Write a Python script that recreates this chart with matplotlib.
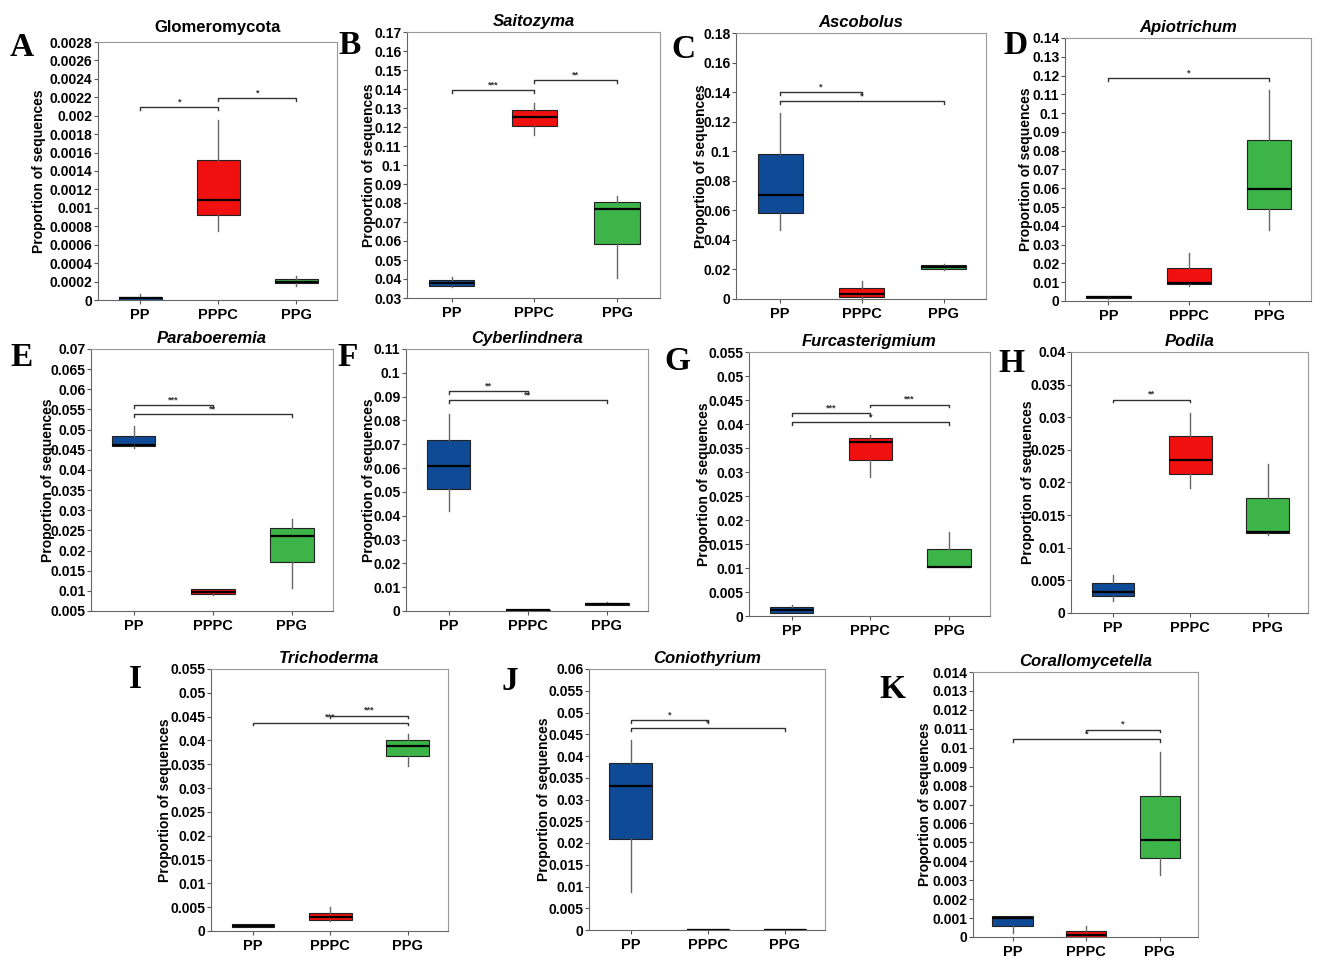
import numpy as np
import matplotlib.pyplot as plt

plt.rcParams["font.family"] = ["Liberation Sans", "DejaVu Sans"]
plt.rcParams["font.weight"] = "bold"

groups = ["PP", "PPPC", "PPG"]

# box stats per group: (whisker low, q1, median, q3, whisker high)
glomeromycota = [(0.0, 0.0, 0.00002, 0.00003, 0.00006),
                 (0.00075, 0.00092, 0.00108, 0.00152, 0.00195),
                 (0.00015, 0.00018, 0.0002, 0.00023, 0.00026)]
saitozyma = [(0.0356, 0.0364, 0.0378, 0.0394, 0.0412),
             (0.1157, 0.1206, 0.1255, 0.129, 0.1325),
             (0.0406, 0.0584, 0.0767, 0.0804, 0.0837)]
ascobolus = [(0.0467, 0.0585, 0.0705, 0.098, 0.126),
             (0.001, 0.0016, 0.0034, 0.0072, 0.0122),
             (0.0198, 0.0201, 0.0215, 0.0229, 0.024)]
apiotrichum = [(0.0013, 0.0015, 0.002, 0.0025, 0.0027),
               (0.008, 0.0089, 0.0098, 0.0178, 0.0254),
               (0.0378, 0.0489, 0.0597, 0.0856, 0.1121)]
paraboeremia = [(0.0455, 0.046, 0.0462, 0.0485, 0.0508),
                (0.009, 0.0092, 0.0096, 0.0104, 0.0105),
                (0.0108, 0.0172, 0.0235, 0.0257, 0.0278)]
cyberlindnera = [(0.0418, 0.0513, 0.061, 0.0719, 0.0827),
                 (0.0001, 0.0001, 0.0003, 0.0005, 0.0006),
                 (0.0025, 0.0027, 0.003, 0.0033, 0.0038)]
furcasterigmium = [(0.0006, 0.0007, 0.0012, 0.0019, 0.0022),
                   (0.0289, 0.0326, 0.0363, 0.037, 0.0377),
                   (0.0102, 0.0102, 0.0102, 0.0139, 0.0174)]
podila = [(0.0019, 0.0026, 0.0032, 0.0046, 0.0059),
          (0.0191, 0.0213, 0.0235, 0.0271, 0.0306),
          (0.012, 0.0122, 0.0124, 0.0177, 0.0229)]
trichoderma = [(0.0008, 0.0008, 0.0011, 0.0014, 0.0014),
               (0.0022, 0.0024, 0.003, 0.0038, 0.005),
               (0.0347, 0.0367, 0.0389, 0.0401, 0.0413)]
coniothyrium = [(0.0087, 0.0209, 0.0332, 0.0384, 0.0436),
                (0.0, 0.0, 0.0001, 0.0002, 0.0002),
                (0.0, 0.0, 0.0001, 0.0002, 0.0002)]
corallomycetella = [(0.0002, 0.0006, 0.001, 0.0011, 0.0011),
                    (0.0, 0.0, 0.0001, 0.0003, 0.00056),
                    (0.0033, 0.00418, 0.0051, 0.00745, 0.00977)]

# significance brackets: (group i, group j, height, stars)
glomeromycota_sig = [(0, 1, 0.00209, "*"), (1, 2, 0.00219, "*")]
saitozyma_sig = [(0, 1, 0.1395, "***"), (1, 2, 0.1445, "**")]
ascobolus_sig = [(0, 1, 0.1400, "*"), (0, 2, 0.1337, "*")]
apiotrichum_sig = [(0, 2, 0.1187, "*")]
paraboeremia_sig = [(0, 1, 0.0560, "***"), (0, 2, 0.0538, "**")]
cyberlindnera_sig = [(0, 1, 0.0922, "**"), (0, 2, 0.0884, "**")]
furcasterigmium_sig = [(0, 1, 0.0423, "***"), (1, 2, 0.0440, "***"), (0, 2, 0.0404, "*")]
podila_sig = [(0, 1, 0.0327, "**")]
trichoderma_sig = [(0, 2, 0.0437, "***"), (1, 2, 0.0452, "***")]
coniothyrium_sig = [(0, 1, 0.0483, "*"), (0, 2, 0.0464, "*")]
corallomycetella_sig = [(0, 2, 0.01044, "*"), (1, 2, 0.01095, "*")]

colors = ["#0f4a96", "#f01010", "#3cb448"]
W, H = 1325, 968

# letter, title, italic, stats, sig, (left, top, right, bottom) px, (ymin, ymax, step), ylabel x px, letter xy px, title pad
panels = [
    ("A", "Glomeromycota", False, glomeromycota, glomeromycota_sig, (98, 42, 337, 300), (0, 0.0028, 0.0002), 39, (22, 47), 7),
    ("B", "Saitozyma", True, saitozyma, saitozyma_sig, (407, 32, 660, 298), (0.03, 0.17, 0.01), 369, (350, 46), 4),
    ("C", "Ascobolus", True, ascobolus, ascobolus_sig, (736, 33, 986, 299), (0, 0.18, 0.02), 701, (683, 50), 4),
    ("D", "Apiotrichum", True, apiotrichum, apiotrichum_sig, (1065, 38, 1311, 301), (0, 0.14, 0.01), 1026, (1015, 46), 4),
    ("E", "Paraboeremia", True, paraboeremia, paraboeremia_sig, (91, 349, 333, 611), (0.005, 0.07, 0.005), 48, (22, 357), 4),
    ("F", "Cyberlindnera", True, cyberlindnera, cyberlindnera_sig, (406, 349, 648, 611), (0, 0.11, 0.01), 369, (348, 358), 4),
    ("G", "Furcasterigmium", True, furcasterigmium, furcasterigmium_sig, (749, 352, 990, 616), (0, 0.055, 0.005), 704, (677, 362), 4),
    ("H", "Podila", True, podila, podila_sig, (1071, 352, 1308, 613), (0, 0.04, 0.005), 1028, (1011, 363), 4),
    ("I", "Trichoderma", True, trichoderma, trichoderma_sig, (211, 669, 448, 931), (0, 0.055, 0.005), 165, (135, 680), 4),
    ("J", "Coniothyrium", True, coniothyrium, coniothyrium_sig, (589, 669, 825, 930), (0, 0.06, 0.005), 544, (510, 682), 4),
    ("K", "Corallomycetella", True, corallomycetella, corallomycetella_sig, (973, 672, 1198, 937), (0, 0.014, 0.001), 925, (892, 690), 4),
]

fig = plt.figure(figsize=(W / 100, H / 100), dpi=100)

for letter, title, italic, stats, sig, rect, yl, lab_x, let_xy, tpad in panels:
    l, t, r, b = rect
    ax = fig.add_axes([l / W, 1 - b / H, (r - l) / W, (b - t) / H])
    bx = [dict(whislo=s[0], q1=s[1], med=s[2], q3=s[3], whishi=s[4], label=g)
          for s, g in zip(stats, groups)]
    res = ax.bxp(bx, positions=[1, 2, 3], widths=0.55, patch_artist=True,
                 showfliers=False, showcaps=False,
                 boxprops=dict(edgecolor="#222222", linewidth=0.8),
                 whiskerprops=dict(color="#666666", linewidth=1),
                 medianprops=dict(color="black", linewidth=1.6))
    for patch, c in zip(res["boxes"], colors):
        patch.set_facecolor(c)

    ymin, ymax, step = yl
    span = ymax - ymin
    for i, j, y, star in sig:
        tk = span * 0.01
        ax.plot([i + 1, i + 1, j + 1, j + 1], [y - tk, y, y, y - tk],
                color="#333333", lw=1)
        ax.text((i + j) / 2 + 1, y + span * 0.003, star, ha="center", va="bottom",
                fontsize=6.5, color="#333333")

    ticks = np.round(np.arange(ymin, ymax + step / 2, step), 6)
    ax.set_yticks(ticks)
    ax.set_yticklabels(["{:g}".format(v) for v in ticks], fontsize=10, fontweight="bold")
    ax.set_ylim(ymin, ymax)
    ax.set_xlim(0.46, 3.52)
    ax.set_xticks([1, 2, 3])
    ax.set_xticklabels(groups, fontsize=10.5, fontweight="bold")
    ax.tick_params(axis="both", length=3, width=0.8, pad=1, color="#555555")
    ax.tick_params(axis="x", pad=3)
    for side in ["top", "right"]:
        ax.spines[side].set_color("#999999")
    for side in ["left", "bottom"]:
        ax.spines[side].set_color("#666666")

    ax.set_title(title, fontsize=12, fontweight="bold",
                 style="italic" if italic else "normal", pad=tpad)
    ax.set_ylabel("Proportion of sequences", fontsize=10, fontweight="bold")
    ax.yaxis.set_label_coords((lab_x + 7 - l) / (r - l), 0.5)

    fig.text(let_xy[0] / W, 1 - let_xy[1] / H, letter, ha="center", va="center",
             fontsize=24, fontweight="bold", family="Liberation Serif")

fig.savefig("out.png", dpi=100)
